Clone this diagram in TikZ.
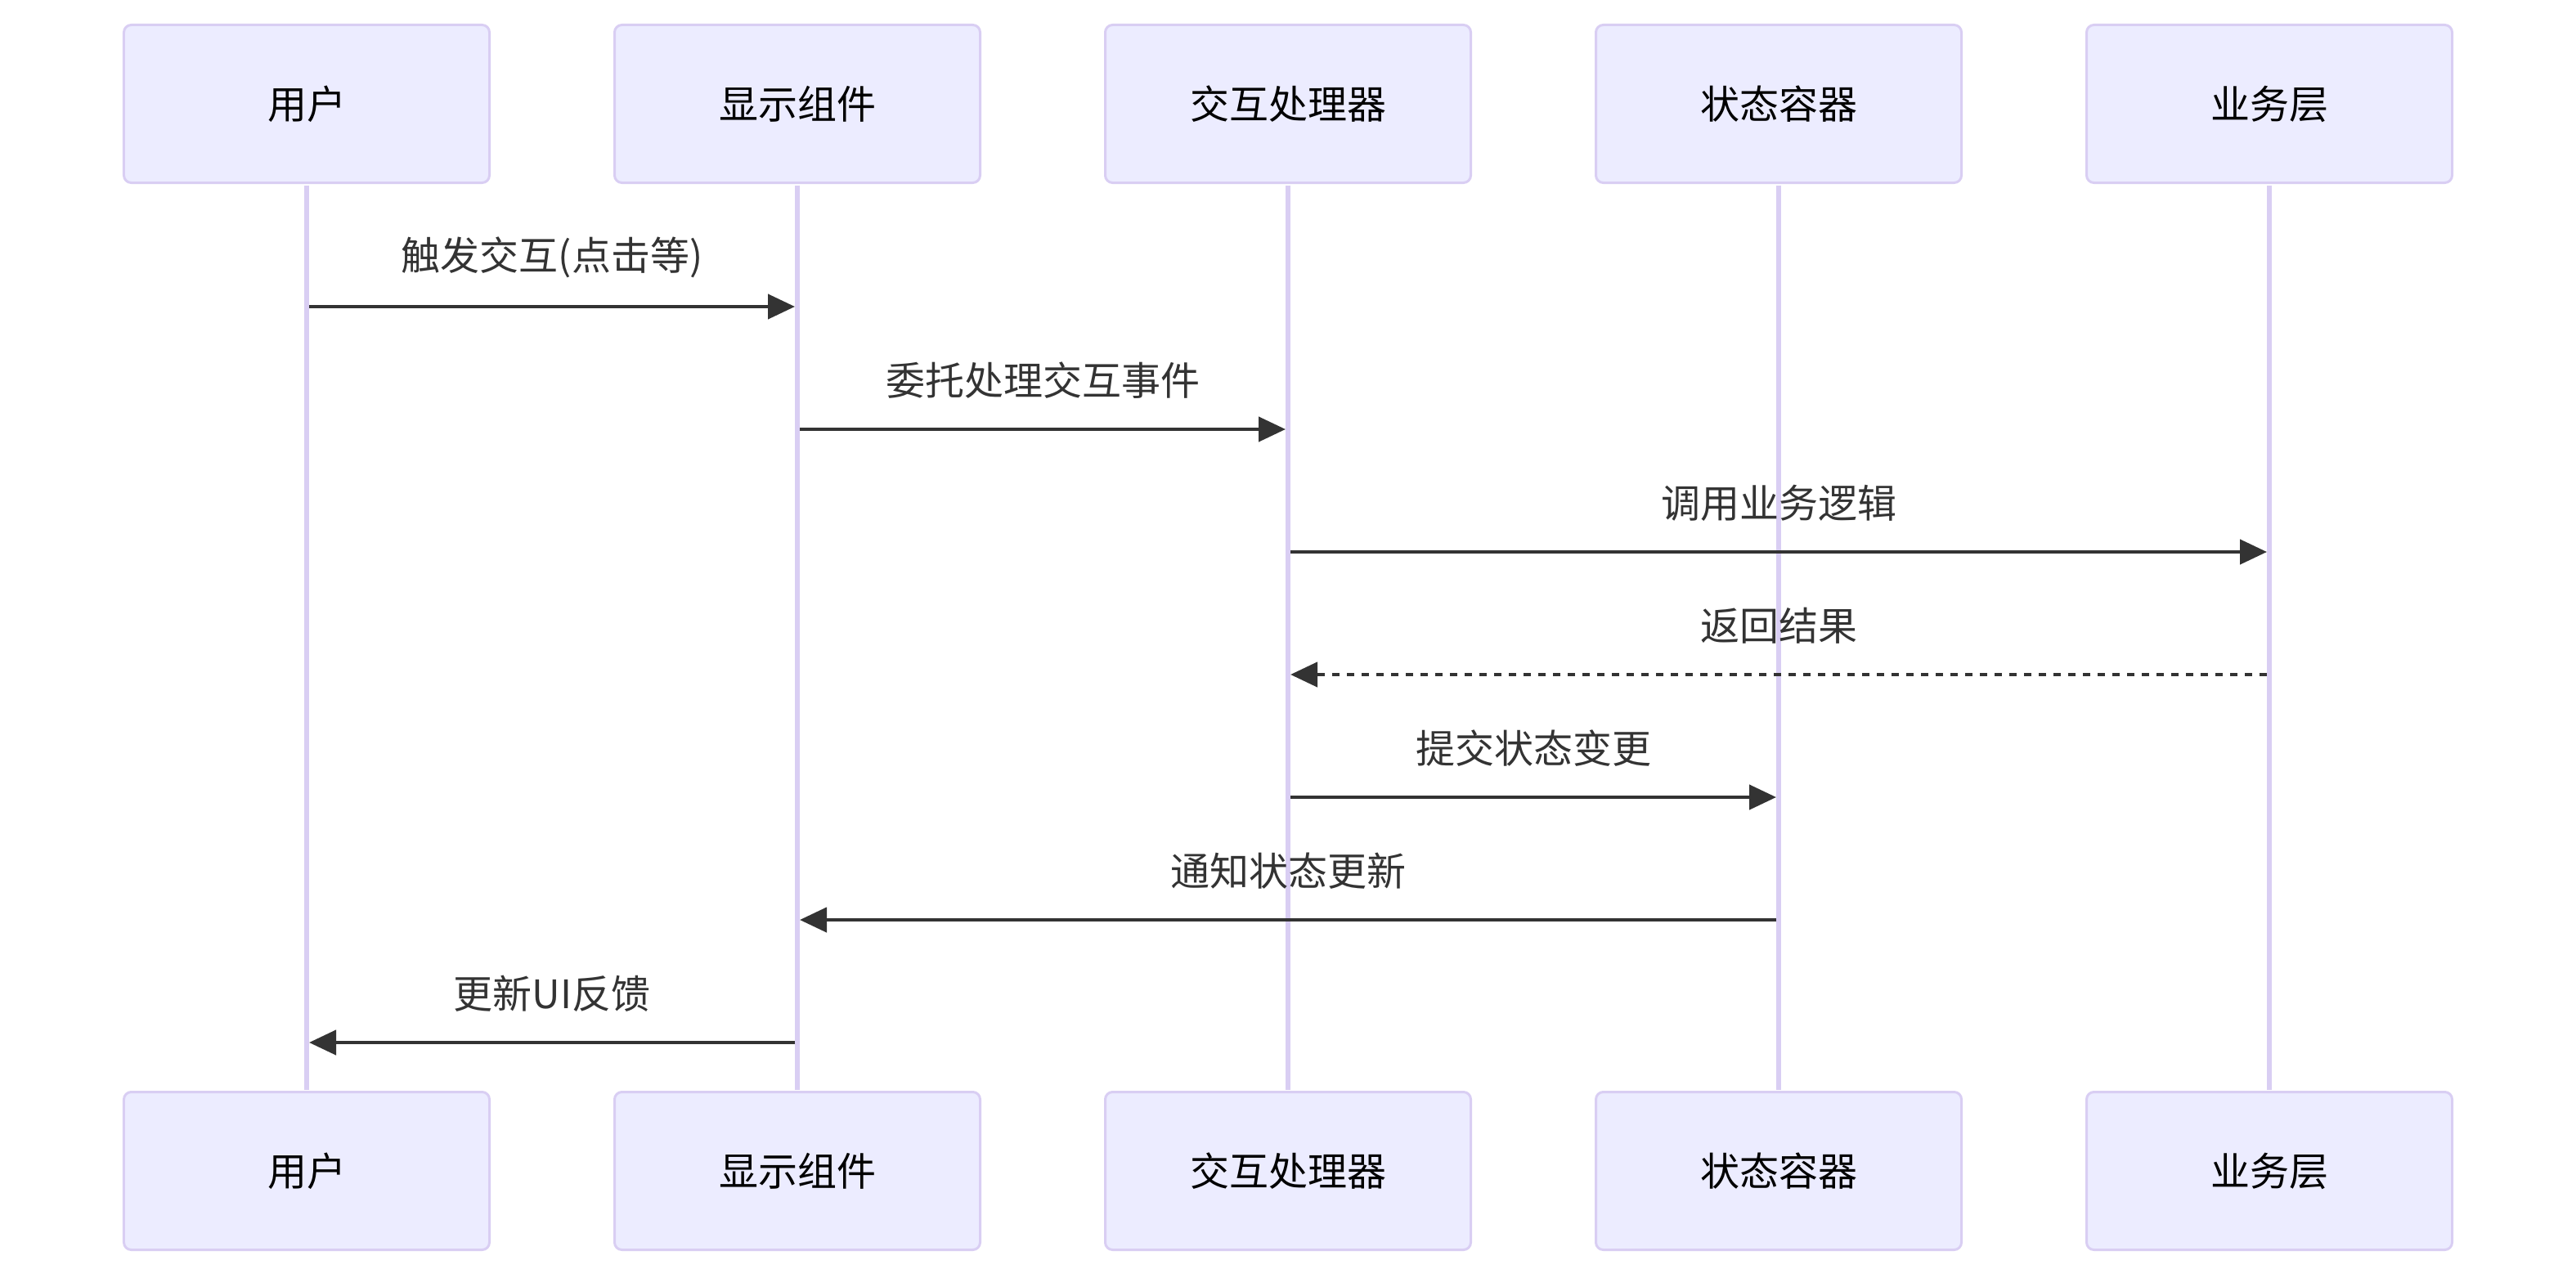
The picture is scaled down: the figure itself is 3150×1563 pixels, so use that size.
\documentclass[tikz,border=0pt]{standalone}
\usepackage{fontspec}
\setmainfont{Noto Sans CJK SC}
\usetikzlibrary{arrows.meta}
\definecolor{actfill}{HTML}{ECECFF}
\definecolor{actline}{HTML}{D9CEF3}
\definecolor{msgcol}{HTML}{333333}
\tikzset{
  actor/.style={draw=actline, line width=3bp, fill=actfill, rounded corners=9bp,
    minimum width=447bp, minimum height=193bp, inner sep=0pt,
    font=\fontsize{48bp}{58bp}\selectfont, text=black},
  life/.style={draw=actline, line width=5.5bp},
  msg/.style={draw=msgcol, line width=4.5bp, -{Triangle[length=33bp,width=30bp]}},
  ret/.style={msg, dash pattern=on 9bp off 9bp},
  lbl/.style={font=\fontsize{48bp}{58bp}\selectfont, text=msgcol, inner sep=0pt, yshift=60bp}
}
\begin{document}
\begin{tikzpicture}[x=1bp, y=-1bp]
\useasboundingbox (0,0) rectangle (3150,1563);
% top actors
\node[actor] (tA) at (375,127) {用户};
\node[actor] (tB) at (975,127) {显示组件};
\node[actor] (tC) at (1575,127) {交互处理器};
\node[actor] (tD) at (2175,127) {状态容器};
\node[actor] (tE) at (2775,127) {业务层};
% bottom actors
\node[actor] (bA) at (375,1432) {用户};
\node[actor] (bB) at (975,1432) {显示组件};
\node[actor] (bC) at (1575,1432) {交互处理器};
\node[actor] (bD) at (2175,1432) {状态容器};
\node[actor] (bE) at (2775,1432) {业务层};
% lifelines
\begin{scope}[on background layer/.style={}]
\foreach \n in {A,B,C,D,E} {
  \draw[life] ([yshift=-1.5bp]t\n.south) -- ([yshift=1.5bp]b\n.north);
}
\end{scope}
% message levels
\coordinate (r1) at (0,375);
\coordinate (r2) at (0,525);
\coordinate (r3) at (0,675);
\coordinate (r4) at (0,825);
\coordinate (r5) at (0,975);
\coordinate (r6) at (0,1125);
\coordinate (r7) at (0,1275);
% messages
\draw[msg] ([xshift=3bp]tA.south |- r1) -- node[lbl]{触发交互(点击等)} ([xshift=-3bp]tB.south |- r1);
\draw[msg] ([xshift=3bp]tB.south |- r2) -- node[lbl]{委托处理交互事件} ([xshift=-3bp]tC.south |- r2);
\draw[msg] ([xshift=3bp]tC.south |- r3) -- node[lbl]{调用业务逻辑} ([xshift=-3bp]tE.south |- r3);
\draw[ret] ([xshift=-3bp]tE.south |- r4) -- node[lbl]{返回结果} ([xshift=3bp]tC.south |- r4);
\draw[msg] ([xshift=3bp]tC.south |- r5) -- node[lbl]{提交状态变更} ([xshift=-3bp]tD.south |- r5);
\draw[msg] ([xshift=-3bp]tD.south |- r6) -- node[lbl]{通知状态更新} ([xshift=3bp]tB.south |- r6);
\draw[msg] ([xshift=-3bp]tB.south |- r7) -- node[lbl]{更新UI反馈} ([xshift=3bp]tA.south |- r7);
\end{tikzpicture}
\end{document}
